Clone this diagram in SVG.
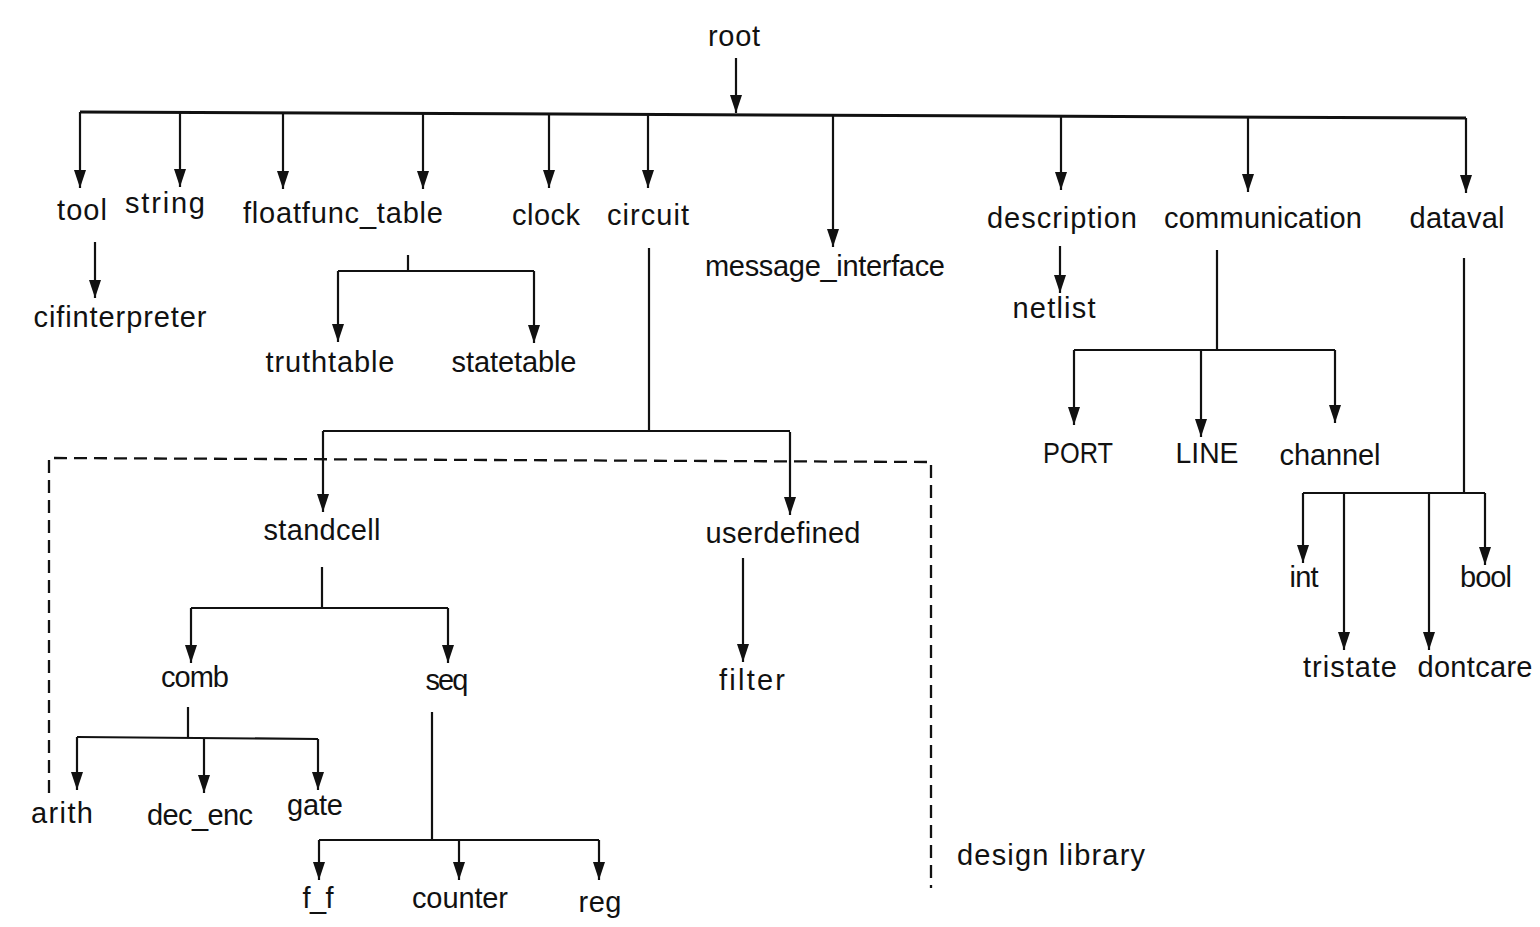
<svg xmlns="http://www.w3.org/2000/svg" width="1540" height="927" viewBox="0 0 1540 927">
<style>
.t{font-family:"Liberation Sans",Arial,sans-serif;font-size:29px;fill:#111;text-anchor:middle}
.c{fill:none;stroke:#111;stroke-width:2.2}
.a{fill:none;stroke:#111;stroke-width:2.2;marker-end:url(#ah)}
.b{fill:none;stroke:#111;stroke-width:3}
.d{fill:none;stroke:#111;stroke-width:2.3;stroke-dasharray:13 7}
</style>
<defs>
<marker id="ah" markerUnits="userSpaceOnUse" viewBox="0 0 18 12" markerWidth="18" markerHeight="12" refX="18" refY="6" orient="auto">
<path d="M0,0 L18,6 L0,12 Z" fill="#111"/>
</marker>
</defs>
<rect width="1540" height="927" fill="#fff"/>
<g id="connectors">
<path class="a" d="M736,58 V113"/>
<path class="b" d="M80,112 L1466,118"/>
<path class="a" d="M80,112 V188"/>
<path class="a" d="M180,112.4 V187"/>
<path class="a" d="M283,113 V189"/>
<path class="a" d="M423,113.5 V189"/>
<path class="a" d="M549,114 V188"/>
<path class="a" d="M648,114.5 V188"/>
<path class="a" d="M833,115.3 V247"/>
<path class="a" d="M1061,116.3 V190"/>
<path class="a" d="M1248,117 V192"/>
<path class="a" d="M1466,118 V193"/>
<path class="a" d="M95,242 V298"/>
<path class="c" d="M408,255 V271 M338,271 H534"/>
<path class="a" d="M338,271 V342"/>
<path class="a" d="M534,271 V343"/>
<path class="c" d="M649,248 V432 M323,431 H790"/>
<path class="a" d="M323,431 V512"/>
<path class="a" d="M790,432 V515"/>
<path class="c" d="M322,567 V608 M191,608 H448"/>
<path class="a" d="M191,608 V663"/>
<path class="a" d="M448,608 V663"/>
<path class="a" d="M743,558 V662"/>
<path class="c" d="M188,707 V737 M77,737 L318,739"/>
<path class="a" d="M77,737 V790"/>
<path class="a" d="M204,738 V793"/>
<path class="a" d="M318,739 V790"/>
<path class="c" d="M432,712 V840 M319,840 H599"/>
<path class="a" d="M319,840 V880"/>
<path class="a" d="M459,840 V880"/>
<path class="a" d="M599,840 V880"/>
<path class="a" d="M1060,246 V293"/>
<path class="c" d="M1217,250 V350 M1074,350 H1335"/>
<path class="a" d="M1074,350 V425"/>
<path class="a" d="M1201,350 V437"/>
<path class="a" d="M1335,350 V423"/>
<path class="c" d="M1464,258 V493 M1303,493 H1485"/>
<path class="a" d="M1303,493 V563"/>
<path class="a" d="M1344,493 V650"/>
<path class="a" d="M1429,493 V650"/>
<path class="a" d="M1485,493 V565"/>
</g>
<g id="design-library">
<path class="d" d="M49,793 L49,458 L931,462 L931,888"/>
<text class="t" x="1051" y="865" textLength="188" lengthAdjust="spacing">design library</text>
</g>
<g id="root"><text class="t" x="734" y="46" textLength="52">root</text></g>
<g id="tool"><text class="t" x="82" y="220" textLength="50">tool</text></g>
<g id="string"><text class="t" x="165" y="213" textLength="80">string</text></g>
<g id="floatfunc_table"><text class="t" x="343" y="223" textLength="200">floatfunc_table</text></g>
<g id="clock"><text class="t" x="546" y="225" textLength="68">clock</text></g>
<g id="circuit"><text class="t" x="648" y="225" textLength="82">circuit</text></g>
<g id="message_interface"><text class="t" x="825" y="276" textLength="240">message_interface</text></g>
<g id="description"><text class="t" x="1062" y="228" textLength="150">description</text></g>
<g id="communication"><text class="t" x="1263" y="228" textLength="198">communication</text></g>
<g id="dataval"><text class="t" x="1457" y="228" textLength="95">dataval</text></g>
<g id="cifinterpreter"><text class="t" x="120" y="327" textLength="173">cifinterpreter</text></g>
<g id="truthtable"><text class="t" x="330" y="372" textLength="129">truthtable</text></g>
<g id="statetable"><text class="t" x="514" y="372" textLength="125">statetable</text></g>
<g id="netlist"><text class="t" x="1054" y="318" textLength="83">netlist</text></g>
<g id="PORT"><text class="t" x="1078" y="463" textLength="70" lengthAdjust="spacingAndGlyphs">PORT</text></g>
<g id="LINE"><text class="t" x="1207" y="463" textLength="63" lengthAdjust="spacingAndGlyphs">LINE</text></g>
<g id="channel"><text class="t" x="1330" y="465" textLength="101">channel</text></g>
<g id="standcell"><text class="t" x="322" y="540" textLength="117">standcell</text></g>
<g id="userdefined"><text class="t" x="783" y="543" textLength="155">userdefined</text></g>
<g id="comb"><text class="t" x="195" y="687" textLength="68">comb</text></g>
<g id="seq"><text class="t" x="447" y="690" textLength="43">seq</text></g>
<g id="filter"><text class="t" x="752" y="690" textLength="66">filter</text></g>
<g id="arith"><text class="t" x="62" y="823" textLength="62">arith</text></g>
<g id="dec_enc"><text class="t" x="200" y="825" textLength="106">dec_enc</text></g>
<g id="gate"><text class="t" x="315" y="815" textLength="56">gate</text></g>
<g id="f_f"><text class="t" x="318" y="908" textLength="31">f_f</text></g>
<g id="counter"><text class="t" x="460" y="908" textLength="96">counter</text></g>
<g id="reg"><text class="t" x="600" y="912" textLength="43">reg</text></g>
<g id="int"><text class="t" x="1304" y="587" textLength="29">int</text></g>
<g id="bool"><text class="t" x="1486" y="587" textLength="52">bool</text></g>
<g id="tristate"><text class="t" x="1350" y="677" textLength="94">tristate</text></g>
<g id="dontcare"><text class="t" x="1475" y="677" textLength="115">dontcare</text></g>
</svg>
